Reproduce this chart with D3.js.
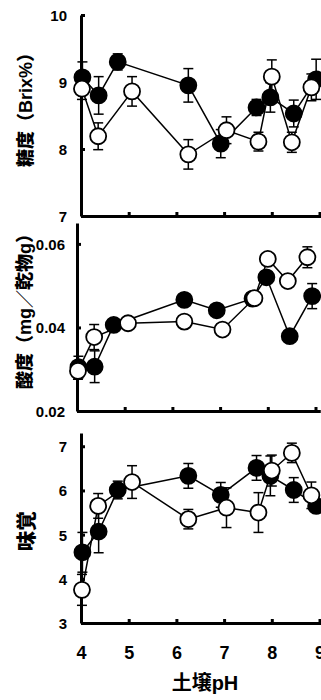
<!DOCTYPE html>
<html>
<head>
<meta charset="utf-8">
<script src="https://cdn.jsdelivr.net/npm/d3@7"></script>
<style>
  html, body { margin: 0; padding: 0; background: #fff; }
  svg { display: block; }
  text { font-family: "Liberation Sans", Arial, "Noto Sans CJK JP", sans-serif; font-weight: bold; fill: #000; }
  .ytitle { font-weight: 900; }
</style>
</head>
<body>
<div id="chart"></div>
<script>
// soil pH of each plot (filled = ●, open = ○)
const phFilled = [4.03, 4.37, 4.77, 6.25, 6.93, 7.68, 7.97, 8.46, 8.93];
const phOpen   = [4.02, 4.36, 5.07, 6.25, 7.05, 7.72, 8.00, 8.42, 8.83];

// 糖度 (Brix%)
const brixFilled    = [9.07, 8.80, 9.30, 8.95, 8.08, 8.62, 8.77, 8.53, 9.04];
const brixFilledErr = [0.23, 0.28, 0.12, 0.25, 0.21, 0.12, 0.22, 0.20, 0.30];
const brixOpen      = [8.90, 8.19, 8.86, 7.92, 8.28, 8.11, 9.08, 8.10, 8.92];
const brixOpenErr   = [0.16, 0.20, 0.22, 0.22, 0.20, 0.14, 0.25, 0.15, 0.20];

// 酸度 (mg/乾物g)
const acidFilled    = [0.0305, 0.0306, 0.0406, 0.0466, 0.0441, 0.0469, 0.0520, 0.0379, 0.0475];
const acidFilledErr = [0.0026, 0.0038, 0.0015, 0.0010, 0.0010, 0.0010, 0.0015, 0.0010, 0.0030];
const acidOpen      = [0.0296, 0.0377, 0.0410, 0.0414, 0.0395, 0.0470, 0.0564, 0.0511, 0.0568];
const acidOpenErr   = [0.0020, 0.0030, 0.0008, 0.0008, 0.0008, 0.0008, 0.0008, 0.0010, 0.0025];

// 味覚
const tasteFilled    = [4.60, 5.07, 6.01, 6.33, 5.90, 6.51, 6.33, 6.01, 5.65];
const tasteFilledErr = [0.45, 0.48, 0.20, 0.28, 0.28, 0.28, 0.45, 0.28, 0.10];
const tasteOpen      = [3.75, 5.65, 6.19, 5.35, 5.61, 5.50, 6.45, 6.85, 5.89];
const tasteOpenErr   = [0.35, 0.28, 0.37, 0.22, 0.45, 0.45, 0.35, 0.22, 0.30];

const xTicks = [4, 5, 6, 7, 8, 9];
const xTitle = '土壌pH';

const W = 321, H = 700;

const panels = [
  { title: '糖度（Brix%）', titleX: 26, left: 81, top: 15, bottom: 216,
    yDomain: [7, 10], yTicks: [7, 8, 9, 10], fmt: d3.format('d'), pad: 14,
    filled: brixFilled, filledErr: brixFilledErr, open: brixOpen, openErr: brixOpenErr },
  { title: '酸度（mg／乾物g）', titleX: 25, left: 77, top: 223, bottom: 411,
    yDomain: [0.02, 0.065], yTicks: [0.02, 0.04, 0.06], fmt: d3.format('.2f'), pad: 12,
    filled: acidFilled, filledErr: acidFilledErr, open: acidOpen, openErr: acidOpenErr },
  { title: '味覚', titleX: 27, left: 81, top: 433, bottom: 623,
    yDomain: [3, 7.3], yTicks: [3, 4, 5, 6, 7], fmt: d3.format('d'), pad: 14,
    filled: tasteFilled, filledErr: tasteFilledErr, open: tasteOpen, openErr: tasteOpenErr, labels: true },
];

const svg = d3.select('#chart').append('svg')
  .attr('width', W).attr('height', H);

panels.forEach(p => {
  const x = d3.scaleLinear().domain([4, 9.1]).range([p.left, p.left + 5.1 * 47.7]);
  const y = d3.scaleLinear().domain(p.yDomain).range([p.bottom, p.top]);
  const g = svg.append('g');

  // y axis
  const ya = g.append('g').attr('transform', `translate(${p.left},0)`)
    .call(d3.axisLeft(y).tickValues(p.yTicks).tickFormat(p.fmt)
      .tickSizeInner(-4).tickSizeOuter(0).tickPadding(p.pad));
  // x axis
  const xa = g.append('g').attr('transform', `translate(0,${p.bottom})`)
    .call(d3.axisBottom(x).tickValues(xTicks).tickFormat(p.labels ? d3.format('d') : '')
      .tickSizeInner(-4).tickSizeOuter(0).tickPadding(23));

  [ya, xa].forEach(a => {
    a.select('.domain').attr('stroke', '#000').attr('stroke-width', 3);
    a.selectAll('.tick line').attr('stroke', '#000').attr('stroke-width', 3);
  });
  ya.selectAll('.tick text').attr('font-size', 15).attr('font-family', null).attr('dy', '0.36em');
  xa.selectAll('.tick text').attr('font-size', 18).attr('font-family', null);

  // y title
  g.append('text')
    .attr('class', 'ytitle')
    .attr('transform', `translate(${p.titleX},${(p.top + p.bottom) / 2 + (p.labels ? 3 : -10)}) rotate(-90)`)
    .attr('text-anchor', 'middle')
    .attr('dominant-baseline', 'central')
    .attr('font-size', p.labels ? 20 : 18)
    .text(p.title);

  const series = [
    { ph: phFilled, v: p.filled, e: p.filledErr, fill: '#000' },
    { ph: phOpen, v: p.open, e: p.openErr, fill: '#fff' },
  ];

  const line = d3.line().x(d => x(d[0])).y(d => y(d[1]));

  series.forEach(s => {
    const pts = s.ph.map((ph, i) => [ph, s.v[i], s.e[i]]);
    g.append('path').datum(pts)
      .attr('d', line).attr('fill', 'none')
      .attr('stroke', '#000').attr('stroke-width', 1.5);
  });

  series.forEach(s => {
    const pts = s.ph.map((ph, i) => [ph, s.v[i], s.e[i]]);
    const eb = g.append('g').attr('stroke', '#000').attr('stroke-width', 1.5);
    eb.selectAll('line.bar').data(pts).join('line').attr('class', 'bar')
      .attr('x1', d => x(d[0])).attr('x2', d => x(d[0]))
      .attr('y1', d => y(d[1] - d[2])).attr('y2', d => y(d[1] + d[2]));
    eb.selectAll('line.capt').data(pts).join('line').attr('class', 'capt')
      .attr('x1', d => x(d[0]) - 5).attr('x2', d => x(d[0]) + 5)
      .attr('y1', d => y(d[1] + d[2])).attr('y2', d => y(d[1] + d[2]));
    eb.selectAll('line.capb').data(pts).join('line').attr('class', 'capb')
      .attr('x1', d => x(d[0]) - 5).attr('x2', d => x(d[0]) + 5)
      .attr('y1', d => y(d[1] - d[2])).attr('y2', d => y(d[1] - d[2]));
    g.append('g').selectAll('circle').data(pts).join('circle')
      .attr('cx', d => x(d[0])).attr('cy', d => y(d[1])).attr('r', 8)
      .attr('fill', s.fill).attr('stroke', '#000').attr('stroke-width', 1.8);
  });
});

svg.append('text')
  .attr('x', 205).attr('y', 690)
  .attr('text-anchor', 'middle')
  .attr('font-size', 20)
  .text(xTitle);
</script>
</body>
</html>
